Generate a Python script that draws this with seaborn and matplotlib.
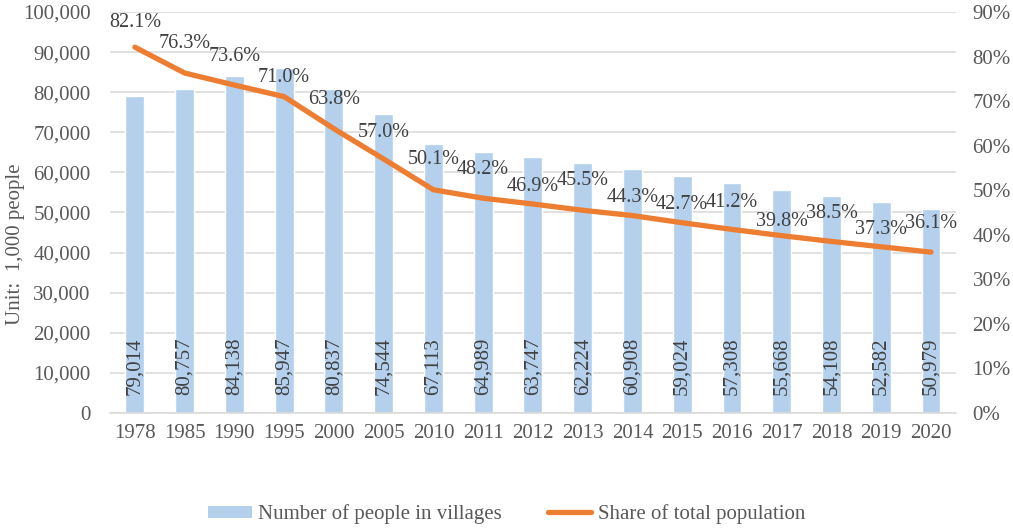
import numpy as np
import pandas as pd
import matplotlib
matplotlib.use('Agg')
import matplotlib.pyplot as plt
import seaborn as sns
from matplotlib.patches import Patch
from matplotlib.lines import Line2D
from matplotlib.ticker import FuncFormatter, MultipleLocator

# data
years = ['1978', '1985', '1990', '1995', '2000', '2005', '2010', '2011', '2012',
         '2013', '2014', '2015', '2016', '2017', '2018', '2019', '2020']
villagers = [79014, 80757, 84138, 85947, 80837, 74544, 67113, 64989, 63747,
             62224, 60908, 59024, 57308, 55668, 54108, 52582, 50979]
share = [82.1, 76.3, 73.6, 71.0, 63.8, 57.0, 50.1, 48.2, 46.9,
         45.5, 44.3, 42.7, 41.2, 39.8, 38.5, 37.3, 36.1]

# vertical offset (px) of each percent label above its point
pct_offsets = [25, 30, 29, 19, 29, 27, 30, 29, 18, 30, 18, 18, 27, 14, 28, 17, 29]

bar_color = '#B5D0EC'
line_color = '#ED7D31'
grid_color = '#D9D9D9'
text_color = '#404040'
tick_color = '#595959'

sns.set_theme(style='white')
plt.rcParams['font.family'] = ['Liberation Serif', 'DejaVu Serif']

df = pd.DataFrame({'year': years, 'villagers': villagers, 'share': share})

fig = plt.figure(figsize=(10.13, 5.30), dpi=100)
ax = fig.add_axes([0.1086, 0.2208, 0.835, 0.7566])

sns.barplot(data=df, x='year', y='villagers', color=bar_color, saturation=1,
            width=0.38, ax=ax, zorder=2)
ax.set_xlim(-0.5, len(years) - 0.5)
ax.set_ylim(0, 100000)
ax.yaxis.set_major_locator(MultipleLocator(10000))
ax.yaxis.set_major_formatter(FuncFormatter(lambda v, p: f'{int(v):,}'))
ax.grid(axis='y', color=grid_color, linewidth=1.1, zorder=0)
ax.set_axisbelow(True)
for s in ['top', 'left', 'right']:
    ax.spines[s].set_visible(False)
ax.spines['bottom'].set_color(grid_color)
ax.spines['bottom'].set_linewidth(1.1)
ax.tick_params(axis='y', length=0, pad=14, labelsize=15, labelcolor=tick_color)
ax.tick_params(axis='x', length=0, pad=8, labelsize=15, labelcolor=tick_color)
ax.set_xlabel('')
ax.set_ylabel('Unit:  1,000 people', fontsize=15, color=tick_color)
ax.yaxis.set_label_coords(-0.1, 0.42)

# value labels inside the base of each bar
for i, v in enumerate(villagers):
    ax.annotate(f'{v:,}', (i, 0), xytext=(0, 13), textcoords='offset points',
                rotation=90, ha='center', va='bottom', fontsize=15,
                color=text_color, zorder=4)

ax2 = ax.twinx()
sns.lineplot(x=np.arange(len(years)), y=share, color=line_color, linewidth=3.8,
             solid_capstyle='round', ax=ax2, zorder=3)
ax2.set_ylim(0, 90)
ax2.yaxis.set_major_locator(MultipleLocator(10))
ax2.yaxis.set_major_formatter(FuncFormatter(lambda v, p: f'{int(round(v))}%'))
ax2.tick_params(axis='y', length=0, pad=12, labelsize=15, labelcolor=tick_color)
for s in ax2.spines.values():
    s.set_visible(False)
ax2.grid(False)

for i, (v, off) in enumerate(zip(share, pct_offsets)):
    ax2.annotate(f'{v:.1f}%', (i, v), xytext=(0, off * 0.72), textcoords='offset points',
                 ha='center', va='center', fontsize=14.5, color=text_color)

handles = [Patch(facecolor=bar_color, edgecolor='none'),
           Line2D([0], [0], color=line_color, linewidth=3.8, solid_capstyle='round')]
fig.legend(handles, ['Number of people in villages', 'Share of total population'],
           loc='center', bbox_to_anchor=(0.5, 0.03), ncol=2, frameon=False,
           fontsize=15, labelcolor=tick_color, handlelength=2.1,
           handleheight=0.5, columnspacing=2.2, handletextpad=0.3)

fig.savefig('out.png', dpi=100)
